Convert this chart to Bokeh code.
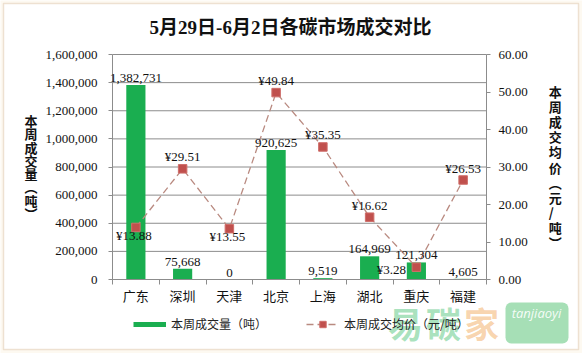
from bokeh.plotting import figure
from bokeh.models import (Range1d, LinearAxis, NumeralTickFormatter, FixedTicker,
                          ColumnDataSource, LabelSet, Label, Legend, LegendItem, BoxAnnotation)
from bokeh.embed import file_html
from bokeh.resources import INLINE

# ---------------- data ----------------
title_text = "5月29日-6月2日各碳市场成交对比"
categories = ["广东", "深圳", "天津", "北京", "上海", "湖北", "重庆", "福建"]
volume = [1382731, 75668, 0, 920625, 9519, 164969, 121304, 4605]
price = [13.88, 29.51, 13.55, 49.84, 35.35, 16.62, 3.28, 26.53]
price_label_side = ["below", "above", "below", "above", "above", "above", "left", "above"]
left_ticks = [0, 200000, 400000, 600000, 800000, 1000000, 1200000, 1400000, 1600000]
right_ticks = [0, 10, 20, 30, 40, 50, 60]
left_axis_title = "本周成交量（吨）"
right_axis_title = "本周成交均价（元/吨）"
legend_volume = "本周成交量（吨）"
legend_price = "本周成交均价（元/吨）"
watermark_cn = ["易", "碳", "家"]
watermark_en = "tanjiaoyi"

# ---------------- layout (pixels) ----------------
W, H = 582, 353
PX0, PX1 = 112, 486      # plot area left / right
PY0, PY1 = 54, 279       # plot area top / bottom
n = len(categories)
sx = (PX1 - PX0) / n
vmax_l, vmax_r = left_ticks[-1], right_ticks[-1]


def px_x(px):
    return (px - PX0) / sx


def px_y(py, vmax=vmax_l):
    return (PY1 - py) / (PY1 - PY0) * vmax


# ---------------- styles ----------------
SERIF = "Liberation Serif, Noto Sans CJK SC"
SANS = "Noto Sans CJK SC"
BAR = "#1AAE50"
LINE = "#B98A80"
MARK = "#C0504D"
GRID = "#8C8C8C"
TXT = "#111111"

x = [i + 0.5 for i in range(n)]

p = figure(width=W, height=H, output_backend="svg", toolbar_location=None,
           x_range=Range1d(px_x(0), px_x(W)),
           y_range=Range1d(px_y(H), px_y(0)),
           min_border=0, min_border_left=0, min_border_right=0,
           min_border_top=0, min_border_bottom=0)
p.extra_y_ranges = {"price": Range1d(px_y(H, vmax_r), px_y(0, vmax_r))}
p.background_fill_color = "#FDF9F1"
p.border_fill_color = "#FDF9F1"
p.outline_line_color = None
p.xgrid.visible = False
p.ygrid.visible = False

# outer frame of the picture
p.add_layout(BoxAnnotation(left=px_x(3), right=px_x(578), top=px_y(3), bottom=px_y(349),
                           fill_color="white", fill_alpha=1,
                           line_color="#C9A277", line_width=1.5, level="underlay"))

# title
p.add_layout(Label(x=px_x(290), y=px_y(27), text=title_text, text_align="center",
                   text_baseline="middle", text_font=SERIF, text_font_size="19px",
                   text_font_style="bold", text_color=TXT))

# horizontal grid lines at the left-axis ticks
p.segment(x0=0, x1=n, y0=left_ticks, y1=left_ticks, line_color=GRID, line_width=1)

# x axis
xa = p.xaxis[0]
xa.fixed_location = 0
xa.bounds = (0, n)
xa.ticker = FixedTicker(ticks=x, minor_ticks=list(range(n + 1)))
xa.major_label_overrides = {v: c for v, c in zip(x, categories)}
xa.major_tick_line_color = None
xa.minor_tick_line_color = GRID
xa.minor_tick_in = 0
xa.minor_tick_out = 5
xa.axis_line_color = GRID
xa.major_label_standoff = 0
xa.major_label_text_font = SANS
xa.major_label_text_font_size = "13px"
xa.major_label_text_color = TXT

# left axis
ya = p.yaxis[0]
ya.fixed_location = 0
ya.bounds = (0, vmax_l)
ya.ticker = FixedTicker(ticks=left_ticks)
ya.formatter = NumeralTickFormatter(format="0,0")
ya.axis_line_color = GRID
ya.major_tick_line_color = GRID
ya.major_tick_in = 0
ya.major_tick_out = 4
ya.minor_tick_line_color = None
ya.major_label_standoff = 11
ya.major_label_text_font = SERIF
ya.major_label_text_font_size = "13px"
ya.major_label_text_color = TXT
ya.axis_label = "\n".join(left_axis_title.replace("（", "︵").replace("）", "︶"))
ya.axis_label_orientation = "horizontal"
ya.axis_label_text_font = SANS
ya.axis_label_text_font_size = "13px"
ya.axis_label_text_font_style = "bold"
ya.axis_label_text_line_height = 0.70
ya.axis_label_standoff = 5
ya.axis_label_text_color = TXT

# right axis
ra = LinearAxis(y_range_name="price", ticker=FixedTicker(ticks=right_ticks),
                formatter=NumeralTickFormatter(format="0.00"),
                fixed_location=n, bounds=(0, vmax_r))
ra.axis_line_color = GRID
ra.major_tick_line_color = GRID
ra.major_tick_in = 0
ra.major_tick_out = 4
ra.minor_tick_line_color = None
ra.major_label_standoff = 8
ra.major_label_text_font = SERIF
ra.major_label_text_font_size = "13px"
ra.major_label_text_color = TXT
ra.axis_label = "\n".join(right_axis_title.replace("（", "︵").replace("）", "︶"))
ra.axis_label_orientation = "horizontal"
ra.axis_label_text_font = SANS
ra.axis_label_text_font_size = "13px"
ra.axis_label_text_font_style = "bold"
ra.axis_label_text_line_height = 0.79
ra.axis_label_standoff = 18
ra.axis_label_text_color = TXT
p.add_layout(ra, "right")

# bars
bar_src = ColumnDataSource(dict(x=x, y=volume, text=[f"{v:,}" for v in volume]))
p.vbar(x="x", top="y", width=0.41, source=bar_src, fill_color=BAR, line_color=None)
p.add_layout(LabelSet(x="x", y="y", text="text", source=bar_src, text_align="center",
                      text_baseline="bottom", y_offset=3, text_font=SERIF,
                      text_font_size="13px", text_color=TXT))

# price line
offs = {"above": (0, 12), "below": (-2, -8), "left": (-25, -2)}
price_src = ColumnDataSource(dict(
    x=x, y=price, text=[f"¥{v:.2f}" for v in price],
    dx=[offs[s][0] for s in price_label_side], dy=[offs[s][1] for s in price_label_side]))
ln = p.line(x="x", y="y", source=price_src, y_range_name="price", line_color=LINE,
            line_width=1.3, line_dash="7 4")
mk = p.scatter(x="x", y="y", source=price_src, y_range_name="price", marker="square",
               size=8.5, fill_color=MARK, line_color="#CF6D69", line_width=1)
p.add_layout(LabelSet(x="x", y="y", text="text", source=price_src, y_range_name="price",
                      x_offset="dx", y_offset="dy", text_align="center",
                      text_baseline="middle", text_font=SERIF, text_font_size="13px",
                      text_color=TXT))

# watermark (bottom right)
wm_colors = ["#3DBE6B", "#3DBE6B", "#F0A04B"]
for i, (ch, col) in enumerate(zip(watermark_cn, wm_colors)):
    p.add_layout(Label(x=px_x(405 + i * 38), y=px_y(322), text=ch, text_align="center",
                       text_baseline="middle", text_font=SANS, text_font_size="35px",
                       text_font_style="bold", text_color=col, text_alpha=0.45))
p.add_layout(BoxAnnotation(left=px_x(505), right=px_x(568), top=px_y(302), bottom=px_y(343),
                           fill_color="#5CC47A", fill_alpha=0.55, line_color=None,
                           border_radius=6))
p.add_layout(Label(x=px_x(536), y=px_y(312), text=watermark_en, text_align="center",
                   text_baseline="middle", text_font="Open Sans", text_font_size="13px",
                   text_font_style="italic", text_color="white", text_alpha=0.9))

# legend (below the axis, inside the canvas-wide frame)
swatch = p.line(x=[float("nan"), float("nan")], y=[float("nan"), float("nan")],
                line_color=BAR, line_width=5)
leg = Legend(items=[LegendItem(label=legend_volume, renderers=[swatch]),
                    LegendItem(label=legend_price, renderers=[ln, mk])],
             location=(133, H - 332), orientation="horizontal", padding=0, margin=0,
             spacing=39, glyph_width=33, glyph_height=16, label_height=16, label_standoff=5,
             border_line_color=None, background_fill_alpha=0,
             label_text_font=SANS, label_text_font_size="12px", label_text_color="#222222")
p.add_layout(leg, "center")

open("out.html", "w").write(file_html(p, INLINE))
